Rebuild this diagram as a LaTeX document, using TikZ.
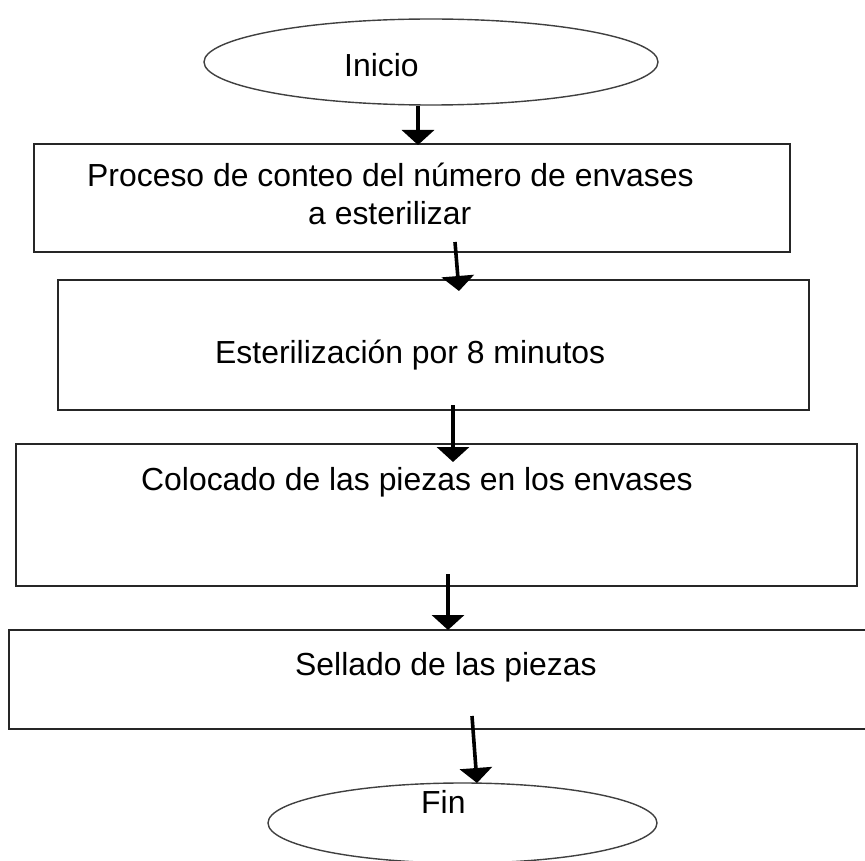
\documentclass[tikz,border=0pt]{standalone}
\usepackage{fontspec}
\setmainfont{Liberation Sans}
\usetikzlibrary{arrows.meta}
\begin{document}
\begin{tikzpicture}[x=1pt,y=-1pt,
  box/.style={draw=black!85,line width=1.6pt,inner sep=0pt},
  oval/.style={draw=black!75,line width=1.4pt},
  lbl/.style={inner sep=0pt,anchor=base west,font=\fontsize{31.9pt}{38pt}\selectfont},
  arr/.style={line width=3.6pt,-{Triangle[width=32pt,length=15pt]}}]
\clip (0,0) rectangle (865,861);
\fill[white] (0,0) rectangle (865,861);
% terminals
\draw[oval] (431,62) ellipse [x radius=227pt, y radius=43pt];
\node[inner sep=0pt] (inicio) at (431,62) {};
\draw[oval] (462.5,823) ellipse [x radius=194.5pt, y radius=40pt];
\node[inner sep=0pt] (fin) at (462.5,823) {};
% boxes
\node[box,minimum width=756pt,minimum height=108pt] (b1) at (412,198) {};
\node[box,minimum width=751pt,minimum height=130pt] (b2) at (433.5,345) {};
\node[box,minimum width=841pt,minimum height=142pt] (b3) at (436.5,515) {};
\node[box,minimum width=870pt,minimum height=99pt] (b4) at (444,679.5) {};
% texts
\node[lbl] (tinicio) at (344,77) {Inicio};
\node[lbl] (t1a) at (87,187) {Proceso de conteo del número de envases};
\node[lbl] (t1b) at (308,225) {a esterilizar};
\node[lbl] (t2) at (215,363) {Esterilización por 8 minutos};
\node[lbl] (t3) at (141,490) {Colocado de las piezas en los envases};
\node[lbl] (t4) at (295,675) {Sellado de las piezas};
\node[lbl] (tfin) at (421,813) {Fin};
% connector ends
\coordinate (s1) at (418,106);  \coordinate (e1) at (418,145);
\coordinate (s2) at (455,242);  \coordinate (e2) at (459,291);
\coordinate (s3) at (453,405);  \coordinate (e3) at (453,462);
\coordinate (s4) at (448,574);  \coordinate (e4) at (448,630);
\coordinate (s5) at (472,716);  \coordinate (e5) at (477,783);
\draw[arr] (s1) -- (e1);
\draw[arr] (s2) -- (e2);
\draw[arr] (s3) -- (e3);
\draw[arr] (s4) -- (e4);
\draw[arr] (s5) -- (e5);
\end{tikzpicture}
\end{document}
